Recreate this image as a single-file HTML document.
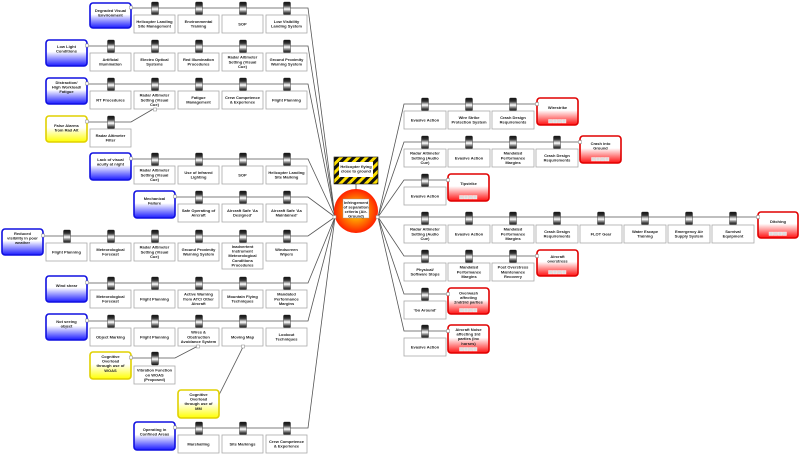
<!DOCTYPE html>
<html><head><meta charset="utf-8"><style>
html,body{margin:0;padding:0;background:#fff;}
svg{display:block;}
text{font-family:"Liberation Sans",sans-serif;font-weight:bold;font-size:4px;fill:#222;text-anchor:middle;}
.b{fill:#fff;stroke:#aaa;stroke-width:0.8;}
.ln{stroke:#555;stroke-width:0.8;fill:none;}
.th{fill:url(#gb);stroke:#1010e0;stroke-width:1.6;}
.ye{fill:url(#gy);stroke:#e0d000;stroke-width:1.6;}
.co{fill:url(#gr);stroke:#e00000;stroke-width:1.6;}
.cn{fill:#fff;stroke:#888;stroke-width:0.5;}
</style></head><body>
<svg width="800" height="458" viewBox="0 0 800 458" xmlns="http://www.w3.org/2000/svg">
<defs>
<linearGradient id="gb" x1="0" y1="0" x2="0" y2="1"><stop offset="0.45" stop-color="#fff"/><stop offset="1" stop-color="#1a1aff"/></linearGradient>
<linearGradient id="gy" x1="0" y1="0" x2="0" y2="1"><stop offset="0.45" stop-color="#fff"/><stop offset="1" stop-color="#ffff00"/></linearGradient>
<linearGradient id="gr" x1="0" y1="0" x2="0" y2="1"><stop offset="0.45" stop-color="#fff"/><stop offset="1" stop-color="#ff1010"/></linearGradient>
<linearGradient id="gs" x1="0" y1="0" x2="0" y2="1"><stop offset="0" stop-color="#111"/><stop offset="0.25" stop-color="#333"/><stop offset="0.55" stop-color="#fff"/><stop offset="0.8" stop-color="#555"/><stop offset="1" stop-color="#111"/></linearGradient>
<radialGradient id="gc"><stop offset="0.3" stop-color="#ffb000"/><stop offset="1" stop-color="#ff2000"/></radialGradient>
<pattern id="hz" width="6" height="6" patternUnits="userSpaceOnUse" patternTransform="rotate(45)"><rect width="6" height="6" fill="#ffe000"/><rect width="3" height="6" fill="#111"/></pattern>
<g id="s"><rect x="0" y="0" width="7" height="13" rx="1" fill="url(#gs)" stroke="#222" stroke-width="0.4"/></g>
<g id="tr"><rect x="0" y="0" width="4" height="3.5" fill="#ddd" stroke="#fff" stroke-width="0.4"/><rect x="4.5" y="0" width="4" height="3.5" fill="#ddd" stroke="#fff" stroke-width="0.4"/><rect x="9" y="0" width="4" height="3.5" fill="#ddd" stroke="#fff" stroke-width="0.4"/><rect x="13.5" y="0" width="4" height="3.5" fill="#ddd" stroke="#fff" stroke-width="0.4"/></g>
</defs>

<!-- connector lines left -->
<g class="ln">
<polyline points="131,8 308,8 335,217"/>
<polyline points="87,46 308,46 335,217"/>
<polyline points="87,84 308,84 335,217"/>
<polyline points="87,122 131,122 155,108"/>
<polyline points="131,159 308,159 335,217"/>
<polyline points="175,197 308,197 335,217"/>
<polyline points="43,236 308,236 335,217"/>
<polyline points="87,283 308,283 335,217"/>
<polyline points="87,321 308,321 335,217"/>
<polyline points="131,358 175,358 198,346"/>
<polyline points="219,395 243,347"/>
<polyline points="175,428 308,428 335,217"/>
<!-- right -->
<polyline points="378,217 404,104 537,104"/>
<polyline points="378,217 404,142 580,142"/>
<polyline points="378,217 404,180 448,180"/>
<polyline points="378,217 758,217"/>
<polyline points="378,217 404,256 537,256"/>
<polyline points="378,217 404,294 448,294"/>
<polyline points="378,217 404,331 448,331"/>
<line x1="356" y1="184" x2="356" y2="190"/>
</g>

<!-- Row1 -->
<rect class="th" x="90" y="3" width="41" height="25" rx="3"/>
<text x="110.5" y="12">Degraded Visual</text><text x="110.5" y="16.6">Environment</text>
<use href="#s" x="151.5" y="2"/><rect class="b" x="134" y="15" width="41" height="18"/><text x="154.5" y="23">Helicopter Landing</text><text x="154.5" y="27.6">Site Management</text>
<use href="#s" x="195.5" y="2"/><rect class="b" x="178" y="15" width="41" height="18"/><text x="198.5" y="23">Environmental</text><text x="198.5" y="27.6">Training</text>
<use href="#s" x="239.5" y="2"/><rect class="b" x="222" y="15" width="41" height="18"/><text x="242.5" y="25.4">SOP</text>
<use href="#s" x="283.5" y="2"/><rect class="b" x="266" y="15" width="41" height="18"/><text x="286.5" y="23">Low Visibility</text><text x="286.5" y="27.6">Landing System</text>

<!-- Row2 -->
<rect class="th" x="46" y="40" width="41" height="26" rx="3"/>
<text x="66.5" y="48">Low Light</text><text x="66.5" y="52.6">Conditions</text>
<use href="#s" x="107.5" y="40"/><rect class="b" x="90" y="53" width="41" height="18"/><text x="110.5" y="61">Artificial</text><text x="110.5" y="65.6">Illumination</text>
<use href="#s" x="151.5" y="40"/><rect class="b" x="134" y="53" width="41" height="18"/><text x="154.5" y="61">Electro Optical</text><text x="154.5" y="65.6">Systems</text>
<use href="#s" x="195.5" y="40"/><rect class="b" x="178" y="53" width="41" height="18"/><text x="198.5" y="61">Red Illumination</text><text x="198.5" y="65.6">Procedures</text>
<use href="#s" x="239.5" y="40"/><rect class="b" x="222" y="53" width="41" height="18"/><text x="242.5" y="58.7">Radar Altimeter</text><text x="242.5" y="63.3">Setting (Visual</text><text x="242.5" y="67.9">Cue)</text>
<use href="#s" x="283.5" y="40"/><rect class="b" x="266" y="53" width="41" height="18"/><text x="286.5" y="61">Ground Proximity</text><text x="286.5" y="65.6">Warning System</text>

<!-- Row3 -->
<rect class="th" x="46" y="78" width="41" height="26" rx="3"/>
<text x="66.5" y="84">Distraction/</text><text x="66.5" y="88.6">High Workload/</text><text x="66.5" y="93.2">Fatigue</text>
<use href="#s" x="107.5" y="78"/><rect class="b" x="90" y="91" width="41" height="18"/><text x="110.5" y="101.4">RT Procedures</text>
<use href="#s" x="151.5" y="78"/><rect class="b" x="134" y="91" width="41" height="18"/><text x="154.5" y="96.7">Radar Altimeter</text><text x="154.5" y="101.3">Setting (Visual</text><text x="154.5" y="105.9">Cue)</text>
<use href="#s" x="195.5" y="78"/><rect class="b" x="178" y="91" width="41" height="18"/><text x="198.5" y="99">Fatigue</text><text x="198.5" y="103.6">Management</text>
<use href="#s" x="239.5" y="78"/><rect class="b" x="222" y="91" width="41" height="18"/><text x="242.5" y="99">Crew Competence</text><text x="242.5" y="103.6">&amp; Experience</text>
<use href="#s" x="283.5" y="78"/><rect class="b" x="266" y="91" width="41" height="18"/><text x="286.5" y="101.4">Flight Planning</text>
<rect class="cn" x="153.5" y="108" width="3" height="3"/>

<!-- Row4 -->
<rect class="ye" x="46" y="116" width="41" height="26" rx="3"/>
<text x="66.5" y="127">False Alarms</text><text x="66.5" y="131.6">from Rad Alt</text>
<use href="#s" x="107.5" y="116"/><rect class="b" x="90" y="129" width="41" height="18"/><text x="110.5" y="137">Radar Altimeter</text><text x="110.5" y="141.6">Filter</text>

<!-- Row5 -->
<rect class="th" x="90" y="153" width="41" height="27" rx="3"/>
<text x="110.5" y="161">Lack of visual</text><text x="110.5" y="165.6">acuity at night</text>
<use href="#s" x="151.5" y="153"/><rect class="b" x="134" y="166" width="41" height="18"/><text x="154.5" y="171.7">Radar Altimeter</text><text x="154.5" y="176.3">Setting (Visual</text><text x="154.5" y="180.9">Cue)</text>
<use href="#s" x="195.5" y="153"/><rect class="b" x="178" y="166" width="41" height="18"/><text x="198.5" y="174">Use of Infrared</text><text x="198.5" y="178.6">Lighting</text>
<use href="#s" x="239.5" y="153"/><rect class="b" x="222" y="166" width="41" height="18"/><text x="242.5" y="176.4">SOP</text>
<use href="#s" x="283.5" y="153"/><rect class="b" x="266" y="166" width="41" height="18"/><text x="286.5" y="174">Helicopter Landing</text><text x="286.5" y="178.6">Site Marking</text>

<!-- Row6 -->
<rect class="th" x="134" y="191" width="41" height="27" rx="3"/>
<text x="154.5" y="200">Mechanical</text><text x="154.5" y="204.6">Failure</text>
<use href="#s" x="195.5" y="191"/><rect class="b" x="178" y="204" width="41" height="18"/><text x="198.5" y="212">Safe Operating of</text><text x="198.5" y="216.6">Aircraft</text>
<use href="#s" x="239.5" y="191"/><rect class="b" x="222" y="204" width="41" height="18"/><text x="242.5" y="212">Aircraft Safe 'As</text><text x="242.5" y="216.6">Designed'</text>
<use href="#s" x="283.5" y="191"/><rect class="b" x="266" y="204" width="41" height="18"/><text x="286.5" y="212">Aircraft Safe 'As</text><text x="286.5" y="216.6">Maintained'</text>

<!-- Row7 -->
<rect class="th" x="2" y="229" width="41" height="26" rx="3"/>
<text x="22.5" y="235">Reduced</text><text x="22.5" y="239.6">visibility in poor</text><text x="22.5" y="244.2">weather</text>
<use href="#s" x="63.5" y="230"/><rect class="b" x="46" y="243" width="41" height="18"/><text x="66.5" y="253.4">Flight Planning</text>
<use href="#s" x="107.5" y="230"/><rect class="b" x="90" y="243" width="41" height="18"/><text x="110.5" y="251">Meteorological</text><text x="110.5" y="255.6">Forecast</text>
<use href="#s" x="151.5" y="230"/><rect class="b" x="134" y="243" width="41" height="18"/><text x="154.5" y="248.7">Radar Altimeter</text><text x="154.5" y="253.3">Setting (Visual</text><text x="154.5" y="257.9">Cue)</text>
<use href="#s" x="195.5" y="230"/><rect class="b" x="178" y="243" width="41" height="18"/><text x="198.5" y="251">Ground Proximity</text><text x="198.5" y="255.6">Warning System</text>
<use href="#s" x="239.5" y="230"/><rect class="b" x="222" y="243" width="41" height="26"/><text x="242.5" y="248">Inadvertent</text><text x="242.5" y="252.6">Instrument</text><text x="242.5" y="257.2">Meteorological</text><text x="242.5" y="261.8">Conditions</text><text x="242.5" y="266.4">Procedures</text>
<use href="#s" x="283.5" y="230"/><rect class="b" x="266" y="243" width="41" height="18"/><text x="286.5" y="251">Windscreen</text><text x="286.5" y="255.6">Wipers</text>

<!-- Row8 -->
<rect class="th" x="46" y="276" width="41" height="26" rx="3"/>
<text x="66.5" y="287">Wind shear</text>
<use href="#s" x="107.5" y="277"/><rect class="b" x="90" y="290" width="41" height="18"/><text x="110.5" y="298">Meteorological</text><text x="110.5" y="302.6">Forecast</text>
<use href="#s" x="151.5" y="277"/><rect class="b" x="134" y="290" width="41" height="18"/><text x="154.5" y="300.4">Flight Planning</text>
<use href="#s" x="195.5" y="277"/><rect class="b" x="178" y="290" width="41" height="18"/><text x="198.5" y="295.7">Active Warning</text><text x="198.5" y="300.3">from ATC/ Other</text><text x="198.5" y="304.9">Aircraft</text>
<use href="#s" x="239.5" y="277"/><rect class="b" x="222" y="290" width="41" height="18"/><text x="242.5" y="298">Mountain Flying</text><text x="242.5" y="302.6">Techniques</text>
<use href="#s" x="283.5" y="277"/><rect class="b" x="266" y="290" width="41" height="18"/><text x="286.5" y="295.7">Mandated</text><text x="286.5" y="300.3">Performance</text><text x="286.5" y="304.9">Margins</text>

<!-- Row9 -->
<rect class="th" x="46" y="314" width="41" height="26" rx="3"/>
<text x="66.5" y="323">Not seeing</text><text x="66.5" y="327.6">object</text>
<use href="#s" x="107.5" y="315"/><rect class="b" x="90" y="328" width="41" height="18"/><text x="110.5" y="338.4">Object Marking</text>
<use href="#s" x="151.5" y="315"/><rect class="b" x="134" y="328" width="41" height="18"/><text x="154.5" y="338.4">Flight Planning</text>
<use href="#s" x="195.5" y="315"/><rect class="b" x="178" y="328" width="41" height="18"/><text x="198.5" y="333.7">Wires &amp;</text><text x="198.5" y="338.3">Obstruction</text><text x="198.5" y="342.9">Avoidance System</text>
<use href="#s" x="239.5" y="315"/><rect class="b" x="222" y="328" width="41" height="18"/><text x="242.5" y="338.4">Moving Map</text>
<use href="#s" x="283.5" y="315"/><rect class="b" x="266" y="328" width="41" height="18"/><text x="286.5" y="336">Lookout</text><text x="286.5" y="340.6">Techniques</text>
<rect class="cn" x="196.5" y="345" width="3" height="3"/><rect class="cn" x="241.5" y="345" width="3" height="3"/>

<!-- Row10 -->
<rect class="ye" x="90" y="352" width="41" height="27" rx="3"/>
<text x="110.5" y="358">Cognitive</text><text x="110.5" y="362.6">Overload</text><text x="110.5" y="367.2">through use of</text><text x="110.5" y="371.8">WOAS</text>
<use href="#s" x="151.5" y="352"/><rect class="b" x="134" y="366" width="41" height="18"/><text x="154.5" y="371.7">Vibration Function</text><text x="154.5" y="376.3">on WOAS</text><text x="154.5" y="380.9">(Proposed)</text>

<!-- Row11 -->
<rect class="ye" x="178" y="390" width="41" height="28" rx="3"/>
<text x="198.5" y="396">Cognitive</text><text x="198.5" y="400.6">Overload</text><text x="198.5" y="405.2">through use of</text><text x="198.5" y="409.8">MM</text>

<!-- Row12 -->
<rect class="th" x="134" y="422" width="41" height="28" rx="3"/>
<text x="154.5" y="431">Operating in</text><text x="154.5" y="435.6">Confined Areas</text>
<use href="#s" x="195.5" y="422"/><rect class="b" x="178" y="435" width="41" height="18"/><text x="198.5" y="445.4">Marshalling</text>
<use href="#s" x="239.5" y="422"/><rect class="b" x="222" y="435" width="41" height="18"/><text x="242.5" y="445.4">Site Markings</text>
<use href="#s" x="283.5" y="422"/><rect class="b" x="266" y="435" width="41" height="18"/><text x="286.5" y="443">Crew Competence</text><text x="286.5" y="447.6">&amp; Experience</text>

<!-- threat connectors -->
<rect class="cn" x="129.5" y="6" width="3" height="3"/>
<rect class="cn" x="85.5" y="44" width="3" height="3"/>
<rect class="cn" x="85.5" y="82" width="3" height="3"/>
<rect class="cn" x="85.5" y="120" width="3" height="3"/>
<rect class="cn" x="129.5" y="157" width="3" height="3"/>
<rect class="cn" x="173.5" y="195" width="3" height="3"/>
<rect class="cn" x="41.5" y="234" width="3" height="3"/>
<rect class="cn" x="85.5" y="281" width="3" height="3"/>
<rect class="cn" x="85.5" y="319" width="3" height="3"/>
<rect class="cn" x="129.5" y="356" width="3" height="3"/>
<rect class="cn" x="173.5" y="426" width="3" height="3"/>

<!-- Hazard -->
<rect x="334" y="157" width="44" height="27" fill="url(#hz)" stroke="#111" stroke-width="0.6"/>
<rect x="339" y="162" width="34" height="15" fill="#fff"/>
<text x="356" y="168">Helicopter flying</text><text x="356" y="172.6">close to ground</text>

<!-- Top event -->
<circle cx="356" cy="211" r="22" fill="url(#gc)"/>
<rect x="343" y="199" width="26" height="19" fill="#fff" stroke="#999" stroke-width="0.4"/>
<text x="356" y="204">Infringement</text><text x="356" y="208.5">of separation</text><text x="356" y="213">criteria (Air-</text><text x="356" y="217.5">Ground)</text>
<rect class="cn" x="333" y="215.5" width="3" height="3"/><rect class="cn" x="376" y="215.5" width="3" height="3"/>

<!-- Right R1 -->
<use href="#s" x="421.5" y="98"/><rect class="b" x="404" y="111" width="42" height="18"/><text x="425" y="121.4">Evasive Action</text>
<use href="#s" x="465.5" y="98"/><rect class="b" x="448" y="111" width="42" height="18"/><text x="469" y="119">Wire Strike</text><text x="469" y="123.6">Protection System</text>
<use href="#s" x="509.5" y="98"/><rect class="b" x="492" y="111" width="42" height="18"/><text x="513" y="119">Crash Design</text><text x="513" y="123.6">Requirements</text>
<rect class="co" x="537" y="98" width="41" height="27" rx="3"/><text x="557.5" y="109">Wirestrike</text><use href="#tr" x="548.5" y="119.5"/><rect class="cn" x="535.5" y="102.5" width="3" height="3"/>

<!-- R2 -->
<use href="#s" x="421.5" y="136"/><rect class="b" x="404" y="149" width="42" height="18"/><text x="425" y="154.7">Radar Altimeter</text><text x="425" y="159.3">Setting (Audio</text><text x="425" y="163.9">Cue)</text>
<use href="#s" x="465.5" y="136"/><rect class="b" x="448" y="149" width="42" height="18"/><text x="469" y="159.4">Evasive Action</text>
<use href="#s" x="509.5" y="136"/><rect class="b" x="492" y="149" width="42" height="18"/><text x="513" y="154.7">Mandated</text><text x="513" y="159.3">Performance</text><text x="513" y="163.9">Margins</text>
<use href="#s" x="553.5" y="136"/><rect class="b" x="536" y="149" width="42" height="18"/><text x="557" y="157">Crash Design</text><text x="557" y="161.6">Requirements</text>
<rect class="co" x="580" y="136" width="41" height="27" rx="3"/><text x="600.5" y="145">Crash into</text><text x="600.5" y="149.6">Ground</text><use href="#tr" x="591.5" y="157.5"/><rect class="cn" x="578.5" y="140.5" width="3" height="3"/>

<!-- R3 -->
<use href="#s" x="421.5" y="174"/><rect class="b" x="404" y="187" width="42" height="18"/><text x="425" y="197.4">Evasive Action</text>
<rect class="co" x="448" y="174" width="41" height="27" rx="3"/><text x="468.5" y="185">Tipstrike</text><use href="#tr" x="459.5" y="195.5"/><rect class="cn" x="446.5" y="178.5" width="3" height="3"/>

<!-- R4 -->
<use href="#s" x="421.5" y="212"/><rect class="b" x="404" y="225" width="42" height="18"/><text x="425" y="230.7">Radar Altimeter</text><text x="425" y="235.3">Setting (Audio</text><text x="425" y="239.9">Cue)</text>
<use href="#s" x="465.5" y="212"/><rect class="b" x="448" y="225" width="42" height="18"/><text x="469" y="235.4">Evasive Action</text>
<use href="#s" x="509.5" y="212"/><rect class="b" x="492" y="225" width="42" height="18"/><text x="513" y="230.7">Mandated</text><text x="513" y="235.3">Performance</text><text x="513" y="239.9">Margins</text>
<use href="#s" x="553.5" y="212"/><rect class="b" x="536" y="225" width="42" height="18"/><text x="557" y="233">Crash Design</text><text x="557" y="237.6">Requirements</text>
<use href="#s" x="597.5" y="212"/><rect class="b" x="580" y="225" width="42" height="18"/><text x="601" y="235.4">FLOT Gear</text>
<use href="#s" x="641.5" y="212"/><rect class="b" x="624" y="225" width="42" height="18"/><text x="645" y="233">Water Escape</text><text x="645" y="237.6">Training</text>
<use href="#s" x="685.5" y="212"/><rect class="b" x="668" y="225" width="42" height="18"/><text x="689" y="233">Emergency Air</text><text x="689" y="237.6">Supply System</text>
<use href="#s" x="729.5" y="212"/><rect class="b" x="712" y="225" width="42" height="18"/><text x="733" y="233">Survival</text><text x="733" y="237.6">Equipment</text>
<rect class="co" x="758" y="212" width="40" height="26" rx="3"/><text x="778" y="223">Ditching</text><use href="#tr" x="769" y="232"/><rect class="cn" x="756.5" y="215.5" width="3" height="3"/>

<!-- R5 -->
<use href="#s" x="421.5" y="250"/><rect class="b" x="404" y="263" width="42" height="18"/><text x="425" y="271">Physical/</text><text x="425" y="275.6">Software Stops</text>
<use href="#s" x="465.5" y="250"/><rect class="b" x="448" y="263" width="42" height="18"/><text x="469" y="268.7">Mandated</text><text x="469" y="273.3">Performance</text><text x="469" y="277.9">Margins</text>
<use href="#s" x="509.5" y="250"/><rect class="b" x="492" y="263" width="42" height="18"/><text x="513" y="268.7">Post Overstress</text><text x="513" y="273.3">Maintenance</text><text x="513" y="277.9">Recovery</text>
<rect class="co" x="537" y="250" width="41" height="26" rx="3"/><text x="557.5" y="258">Aircraft</text><text x="557.5" y="262.6">overstress</text><use href="#tr" x="548.5" y="270.5"/><rect class="cn" x="535.5" y="254.5" width="3" height="3"/>

<!-- R6 -->
<use href="#s" x="421.5" y="288"/><rect class="b" x="404" y="301" width="42" height="18"/><text x="425" y="311.4">'Go Around'</text>
<rect class="co" x="448" y="288" width="41" height="26" rx="3"/><text x="468.5" y="294.5">Overwash</text><text x="468.5" y="299.1">affecting</text><text x="468.5" y="303.7">2nd/3rd parties</text><use href="#tr" x="459.5" y="308.5"/><rect class="cn" x="446.5" y="292.5" width="3" height="3"/>

<!-- R7 -->
<use href="#s" x="421.5" y="325"/><rect class="b" x="404" y="338" width="42" height="18"/><text x="425" y="348.4">Evasive Action</text>
<rect class="co" x="448" y="325" width="41" height="28" rx="3"/><text x="468.5" y="331">Aircraft Noise</text><text x="468.5" y="335.6">affecting 3rd</text><text x="468.5" y="340.2">parties (inc</text><text x="468.5" y="344.8">horses)</text><use href="#tr" x="459.5" y="347.5"/><rect class="cn" x="446.5" y="329.5" width="3" height="3"/>
</svg>
</body></html>
